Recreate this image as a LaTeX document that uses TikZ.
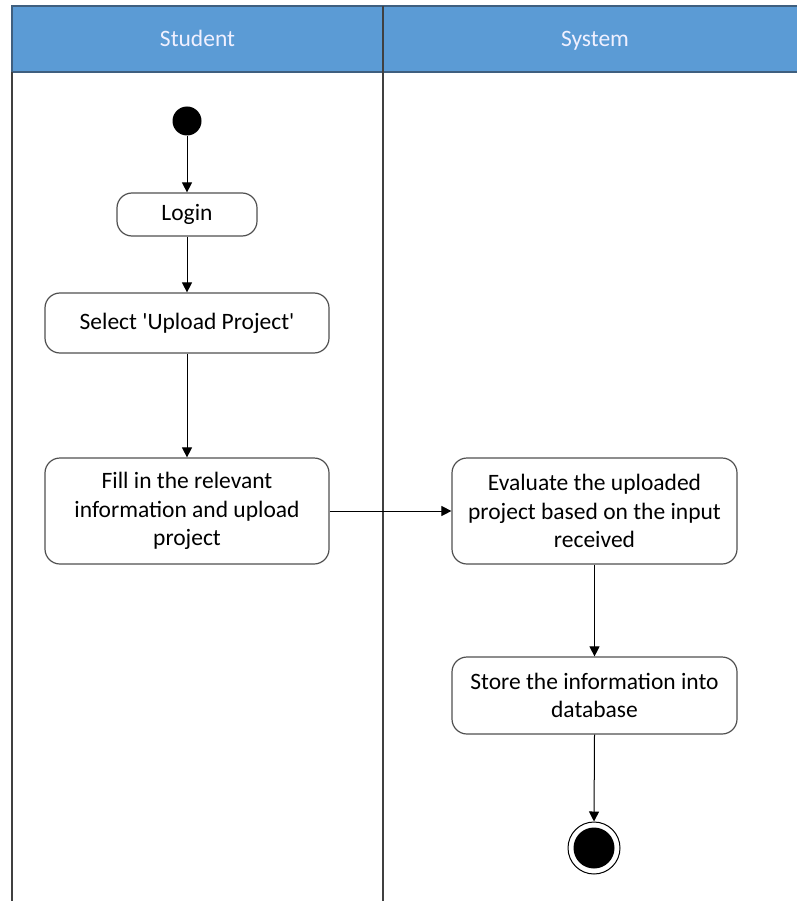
\documentclass[tikz,border=0pt]{standalone}
\usepackage{fontspec}
\setmainfont{Carlito}
\usetikzlibrary{arrows.meta}
\definecolor{lanehead}{HTML}{5B9BD5}
\definecolor{laneedge}{HTML}{3F5F7F}
\definecolor{boxedge}{HTML}{505050}
\tikzset{
  action/.style={draw=boxedge, line width=1.2pt, rounded corners=15pt, fill=white,
    align=center, inner sep=0pt, font=\fontsize{23.5}{28.5}\selectfont},
  flow/.style={draw=black, line width=1pt, -{Triangle[length=10pt,width=10pt]}},
  lane/.style={draw=black!75, line width=1.3pt},
  headtext/.style={text=white!94!blue, anchor=base, font=\fontsize{23.5}{28}\selectfont}
}
\begin{document}
\begin{tikzpicture}[x=1pt,y=-1pt]
  \useasboundingbox (0,0) rectangle (796,901);
  % swimlane headers
  \fill[lanehead] (12,6) rectangle (800,72);
  \draw[laneedge, line width=1.5pt] (800,6) -- (12,6) -- (12,72) -- (800,72);
  \node[headtext] (hstudent) at (197.5,47) {Student};
  \node[headtext] (hsystem) at (595,47) {System};
  % lane borders
  \draw[lane] (12,72) -- (12,905);
  \draw[lane] (383,6) -- (383,905);
  % initial and final states
  \node[circle, fill=black, minimum size=29pt, inner sep=0pt] (start) at (187,121) {};
  \node[circle, draw=black, line width=1pt, fill=white, minimum size=52pt, inner sep=0pt] (stop) at (594,848) {};
  \node[circle, fill=black, minimum size=41pt, inner sep=0pt] (stopdot) at (594,848) {};
  % actions
  \node[action, minimum width=140pt, minimum height=43pt] (login) at (187,214.5) {Login};
  \node[action, minimum width=284pt, minimum height=60pt] (select) at (187,323)
    {Select \textquotesingle Upload Project\textquotesingle};
  \node[action, minimum width=284pt, minimum height=106pt] (fill) at (187,511)
    {Fill in the relevant\\information and upload\\project};
  \node[action, minimum width=285pt, minimum height=106pt] (eval) at (594.5,511)
    {Evaluate the uploaded\\project based on the input\\received};
  \node[action, minimum width=285pt, minimum height=77pt] (store) at (594.5,695.5)
    {Store the information into\\database};
  % control flow
  \draw[flow] (start) -- (login);
  \draw[flow] (login) -- (select);
  \draw[flow] (select) -- (fill);
  \draw[flow] (fill) -- (eval);
  \draw[flow] (eval) -- (store);
  \draw[flow] (store.south) -- (stop.north);
\end{tikzpicture}
\end{document}
